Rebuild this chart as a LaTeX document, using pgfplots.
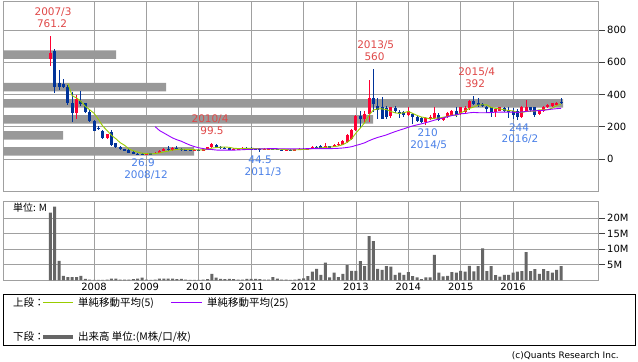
\documentclass[border=0pt]{standalone}
\usepackage{pgfplots}
\pgfplotsset{compat=1.18}
\usepackage{pgfplotstable}
\usepackage{fontspec}
\setmainfont{DejaVu Sans}
\newfontfamily\jp{Noto Sans CJK JP}
\definecolor{upc}{HTML}{FF0033}
\definecolor{dnc}{HTML}{003399}
\definecolor{ma5}{HTML}{99CC00}
\definecolor{ma25}{HTML}{9900FF}
\definecolor{gbar}{HTML}{999999}
\definecolor{vbar}{HTML}{666666}
\definecolor{gridc}{HTML}{A0A0A0}
\definecolor{annr}{HTML}{E04848}
\definecolor{annb}{HTML}{4A80E8}

\pgfplotstableread{
n o h l c v
-10 622 761.2 578 659 21.7
-9 671 680 407 444 23.6
-8 470 550 430 445 6.3
-7 465 495 438 445 1.5
-6 445 460 335 345 1.1
-5 350 415 230 285 1.1
-4 283 397 246 372 1.1
-3 360 420 330 340 1.5
-2 345 350 285 293 0.5
-1 293 305 230 237 0.3
0 237 240 172 176 0.2
1 195 205 180 185 0.2
2 176 182 125 130 0.2
3 128 158 122 155 0.3
4 165 180 80 87 0.6
5 97 100 68 72 0.6
6 76 80 58 62 0.3
7 60 64 47 50 0.3
8 56 60 37 40 0.3
9 42 52 30 32 0.4
10 33 38 28 30 0.6
11 31 36 26.9 29 0.9
12 29 38 28 35 0.3
13 35 40 31 33 0.2
14 33 44 31 40 0.3
15 40 56 38 52 0.6
16 52 66 48 62 0.6
17 63 78 52 57 0.6
18 57 72 52 66 0.6
19 66 80 55 61 0.4
20 61 68 52 59 0.5
21 59 64 54 57 0.3
22 57 60 50 54 0.2
23 54 62 52 58 0.2
24 58 62 52 55 0.2
25 55 64 52 60 0.3
26 60 76 58 72 0.4
27 72 99.5 70 93 2.1
28 86 90 70 74 0.9
29 75 80 64 68 0.5
30 68 72 62 65 0.4
31 65 70 58 62 0.5
32 62 68 58 64 0.4
33 64 70 60 66 0.3
34 66 74 60 70 0.3
35 70 72 62 66 0.5
36 66 72 60 63 0.5
37 63 68 58 61 0.5
38 61 66 44.5 58 0.4
39 58 66 56 62 0.3
40 63 70 58 66 0.3
41 66 68 56 60 1.1
42 60 64 54 58 0.6
43 58 60 48 54 0.3
44 54 62 52 57 0.3
45 57 62 54 56 0.2
46 56 62 54 59 0.3
47 59 68 55 64 0.5
48 64 66 56 60 0.7
49 60 70 58 65 1.4
50 62 80 60 76 2.8
51 76 82 70 73 3.7
52 78 84 66 70 1.8
53 70 98 68 78 5.7
54 78 80 70 74 1.0
55 74 90 72 86 2.5
56 86 106 82 95 1.1
57 88 118 85 112 2.1
58 104 155 100 149 4.9
59 126 185 120 180 3.1
60 180 275 175 268 3.1
61 268 300 190 250 6.2
62 245 300 225 280 4.6
63 280 490 230 380 14.2
64 380 560 290 340 12.6
65 329 380 250 304 3.7
66 322 384 245 250 3.4
67 314 330 245 260 4.6
68 265 325 255 320 4.4
69 314 330 285 298 1.8
70 293 305 255 283 2.5
71 290 300 262 275 1.8
72 275 320 268 300 2.7
73 279 285 220 258 1.4
74 258 265 228 237 1.0
75 252 258 221 232 0.4
76 232 258 210 252 1.0
77 245 270 240 262 1.0
78 255 320 250 283 8.2
79 273 285 235 242 2.5
80 242 262 238 255 1.3
81 262 290 255 283 1.5
82 273 305 265 300 2.7
83 300 325 262 273 2.5
84 279 325 275 320 3.1
85 290 330 285 318 2.8
86 314 365 305 360 4.7
87 360 392 335 341 2.9
88 350 376 325 334 4.6
89 340 345 320 330 10.3
90 324 330 283 312 3.0
91 320 325 262 283 4.6
92 290 315 262 310 1.7
93 300 325 295 320 1.2
94 315 320 290 300 1.8
95 305 320 255 290 1.8
96 295 314 250 272 2.5
97 298 310 244 259 2.8
98 262 330 255 324 3.0
99 300 366 295 325 9.1
100 320 325 290 304 3.0
101 320 325 262 273 3.6
102 280 305 275 300 2.1
103 295 330 290 325 3.6
104 320 340 315 335 3.0
105 330 350 325 345 2.5
106 335 355 330 350 3.4
107 355 380 341 352 4.6
}\data

\pgfplotstableread{
n m
-6 467.6
-5 392.8
-4 378.4
-3 357.4
-2 327
-1 305.4
0 283.6
1 246.2
2 204.2
3 176.6
4 146.6
5 125.8
6 101.2
7 85.2
8 62.2
9 51.2
10 42.8
11 36.2
12 33.2
13 31.8
14 33.4
15 37.8
16 44.4
17 48.8
18 55.4
19 59.6
20 61
21 60
22 59.4
23 57.8
24 56.6
25 56.8
26 59.8
27 67.6
28 70.8
29 73.4
30 74.4
31 72.4
32 66.6
33 65
34 65.4
35 65.6
36 65.8
37 65.2
38 63.6
39 62
40 62
41 61.4
42 60.8
43 60
44 59
45 57
46 56.8
47 58
48 59.2
49 60.8
50 64.8
51 67.6
52 68.8
53 72.4
54 74.2
55 76.2
56 80.6
57 89
58 103.2
59 124.4
60 160.8
61 191.8
62 225.4
63 271.6
64 303.6
65 310.8
66 310.8
67 306.8
68 294.8
69 286.4
70 282.2
71 287.2
72 295.2
73 282.8
74 270.6
75 260.4
76 255.8
77 248.2
78 253.2
79 254.2
80 258.8
81 265
82 272.6
83 270.6
84 286.2
85 298.8
86 314.2
87 322.4
88 334.6
89 336.6
90 335.4
91 320
92 313.8
93 311
94 305
95 300.6
96 298.4
97 288.2
98 289
99 294
100 296.8
101 297
102 305.2
103 305.4
104 307.4
105 315.6
106 331
107 341.4
}\mafive

\pgfplotstableread{
n m
14 200.8
15 176.6
16 161.3
17 145.8
18 130.6
19 119.2
20 110.2
21 97.6
22 86.2
23 76.8
24 69.5
25 64.8
26 60.3
27 58.8
28 55.6
29 54.8
30 54.6
31 54.6
32 55.1
33 56.2
34 57.7
35 59.1
36 60.5
37 61.5
38 62.5
39 63.4
40 64.0
41 63.9
42 63.9
43 63.4
44 63.3
45 63.2
46 63.2
47 63.6
48 63.7
49 64.1
50 64.8
51 64.8
52 63.9
53 64.0
54 64.3
55 65.1
56 66.4
57 68.4
58 71.7
59 76.1
60 84.2
61 91.6
62 100.4
63 113.3
64 124.4
65 133.9
66 141.5
67 149.6
68 160.2
69 169.9
70 179.0
71 187.6
72 197.0
73 205.0
74 211.8
75 218.1
76 225.2
77 232.9
78 241.1
79 247.8
80 254.6
81 262.1
82 269.6
83 274.6
84 280.2
85 282.2
86 286.6
87 289.0
88 287.2
89 286.8
90 287.1
91 288.4
92 290.4
93 290.4
94 290.5
95 290.8
96 290.7
97 289.0
98 291.7
99 295.2
100 298.1
101 298.9
102 300.4
103 302.1
104 305.8
105 309.4
106 312.1
107 314.2
}\matwentyfive

\pgfplotstableread{
len p
113 647
163 446
560 345
370 245
60 146
191 47
}\vbp

\pgfplotsset{
  panel/.style={scale only axis, anchor=south west, width=595bp,
    xmin=-20.85, xmax=115.46,
    axis line style={gridc, line width=0.8bp},
    grid=major, grid style={gridc, line width=0.8bp},
    xtick={0,12,...,96}, xtick style={draw=none},
    ytick pos=right, yticklabel pos=right, tick align=outside,
    major tick length=7bp, ytick style={black!75, line width=0.8bp},
    yticklabel style={inner sep=2bp},
    tick label style={font=\fontsize{10}{12}\selectfont},
    /pgf/number format/assume math mode=true},
  ov/.style={scale only axis, anchor=south west, width=595bp, hide axis, clip=false},
  cand/.style n args={3}{draw=none, mark=none, forget plot,
    x filter/.expression={#2 ? x : nan},
    error bars/.cd, y dir=both, y explicit, error mark=none,
    error bar style={draw=#1, line width=#3}},
}

\begin{document}
\begin{tikzpicture}
\useasboundingbox (0bp,0bp) rectangle (638bp,362bp);
\fill[white] (0bp,0bp) rectangle (638bp,362bp);

% price panel frame and grid
\begin{axis}[panel, at={(3bp,170.75bp)}, height=190.25bp,
  ymin=-200, ymax=980, ytick={0,200,...,800}, xticklabels={}]
\end{axis}

% price-volume gray bars
\begin{axis}[ov, at={(3bp,170.75bp)}, height=190.25bp,
  xmin=0, xmax=595, ymin=-200, ymax=980]
\addplot[xbar, bar width=8.5bp, fill=gbar, draw=none] table[x=len, y=p] {\vbp};
\end{axis}

% candles and moving averages
\begin{axis}[ov, at={(3bp,170.75bp)}, height=190.25bp,
  xmin=-20.85, xmax=115.46, ymin=-200, ymax=980]
\addplot[cand={upc}{\thisrow{c}>=\thisrow{o}}{1bp}]
  table[x=n, y expr={(\thisrow{h}+\thisrow{l})/2}, y error expr={(\thisrow{h}-\thisrow{l})/2}] {\data};
\addplot[cand={upc}{\thisrow{c}>=\thisrow{o}}{3bp}]
  table[x=n, y expr={(\thisrow{o}+\thisrow{c})/2}, y error expr={max(abs(\thisrow{c}-\thisrow{o})/2,2)}] {\data};
\addplot[cand={dnc}{\thisrow{c}<\thisrow{o}}{1bp}]
  table[x=n, y expr={(\thisrow{h}+\thisrow{l})/2}, y error expr={(\thisrow{h}-\thisrow{l})/2}] {\data};
\addplot[cand={dnc}{\thisrow{c}<\thisrow{o}}{3bp}]
  table[x=n, y expr={(\thisrow{o}+\thisrow{c})/2}, y error expr={max(abs(\thisrow{c}-\thisrow{o})/2,2)}] {\data};
\addplot[ma5, line width=0.9bp, mark=none] table[x=n, y=m] {\mafive};
\addplot[ma25, line width=0.9bp, mark=none] table[x=n, y=m] {\matwentyfive};
\begin{scope}[every node/.style={font=\fontsize{10.5}{12}\selectfont, inner sep=0pt}]
\node[annr] at (axis cs:-9.39,909.8) {2007/3};
\node[annr] at (axis cs:-9.62,837.2) {761.2};
\node[annr] at (axis cs:26.58,248) {2010/4};
\node[annr] at (axis cs:27.03,173.6) {99.5};
\node[annb] at (axis cs:11.23,-21.7) {26.9};
\node[annb] at (axis cs:11.91,-99.2) {2008/12};
\node[annb] at (axis cs:38.03,-6.2) {44.5};
\node[annb] at (axis cs:38.72,-80.6) {2011/3};
\node[annr] at (axis cs:64.54,707) {2013/5};
\node[annr] at (axis cs:64.26,632.6) {560};
\node[annr] at (axis cs:87.67,539.5) {2015/4};
\node[annr] at (axis cs:87.28,465.1) {392};
\node[annb] at (axis cs:76.45,161.2) {210};
\node[annb] at (axis cs:76.68,86.8) {2014/5};
\node[annb] at (axis cs:97.37,192.2) {244};
\node[annb] at (axis cs:97.59,124) {2016/2};
\end{scope}
\end{axis}

% volume panel
\begin{axis}[panel, at={(3bp,81.5bp)}, height=79.5bp,
  ymin=0, ymax=25.44, ytick={5,10,15,20}, yticklabels={5M,10M,15M,20M},
  xticklabels={2008,2009,2010,2011,2012,2013,2014,2015,2016},
  xticklabel style={inner sep=0pt, yshift=5bp}]
\addplot[ybar, bar width=3bp, fill=vbar, draw=none] table[x=n, y=v] {\data};
\end{axis}
\node[anchor=west, inner sep=0pt, font=\jp\fontsize{10}{12}\selectfont] at (13bp,154bp) {単位: M};

% legend box
\draw[black, line width=1bp] (3bp,16bp) rectangle (635bp,67bp);
\begin{scope}[every node/.style={anchor=west, inner sep=0pt, font=\jp\fontsize{10.5}{12}\selectfont}]
\node at (13bp,59bp) {上段：};
\draw[ma5, line width=1bp] (43bp,59bp) -- (73bp,59bp);
\node at (78bp,59bp) {単純移動平均(5)};
\draw[ma25, line width=1bp] (171bp,59bp) -- (202bp,59bp);
\node at (207bp,59bp) {単純移動平均(25)};
\node at (13bp,25bp) {下段：};
\draw[vbar, line width=4bp] (43bp,25bp) -- (73bp,25bp);
\node at (78bp,25bp) {出来高 単位:(M株/口/枚)};
\end{scope}
\node[anchor=east, inner sep=0pt, font=\fontsize{9}{10}\selectfont] at (619bp,6bp) {(c)Quants Research Inc.};
\end{tikzpicture}
\end{document}
